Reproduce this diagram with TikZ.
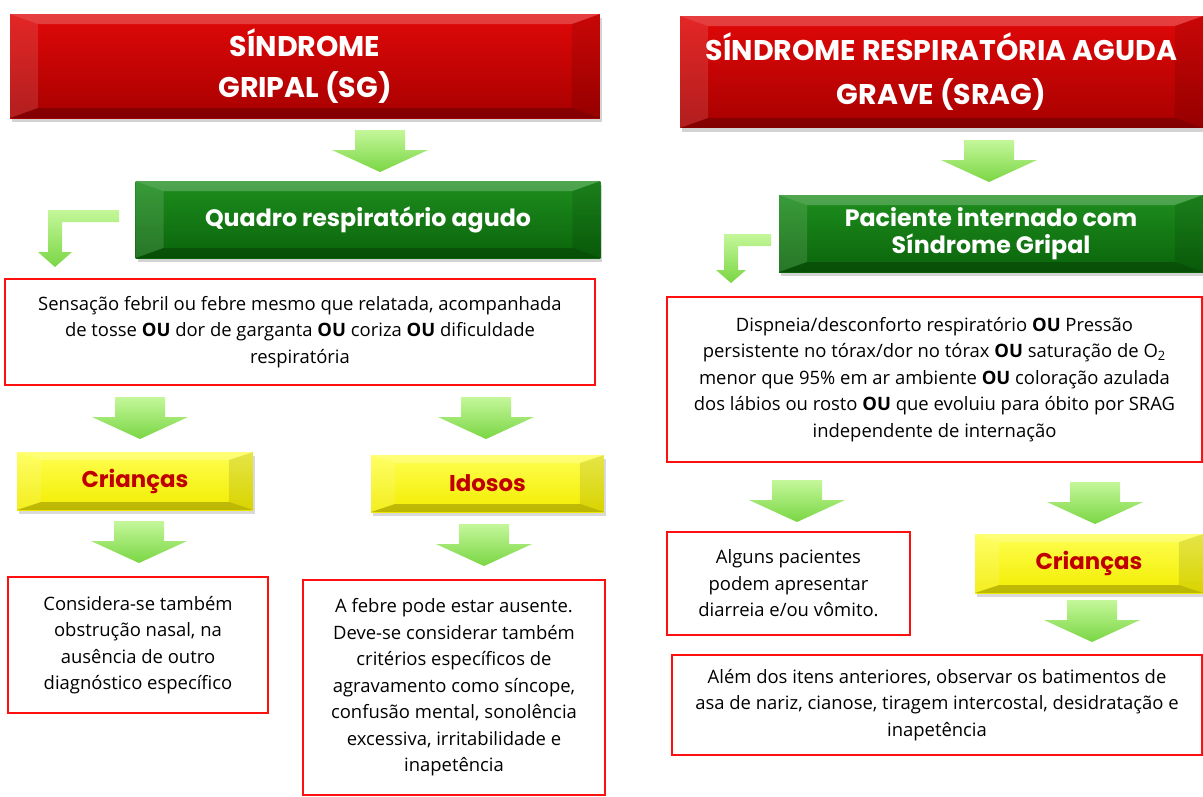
\documentclass[tikz,border=0pt]{standalone}
\usepackage{fontspec}
\setmainfont{Open Sans}
\newfontfamily\titlefont{Poppins}
\usetikzlibrary{calc,shadows}

\definecolor{redtop}{HTML}{E00808}
\definecolor{redbot}{HTML}{A80000}
\definecolor{greentop}{HTML}{1E8E1E}
\definecolor{greenbot}{HTML}{0A640A}
\definecolor{yellowtop}{HTML}{FFFF50}
\definecolor{yellowbot}{HTML}{F2EC00}
\definecolor{darkred}{HTML}{C00000}
\definecolor{arrowtop}{HTML}{C4F79A}
\definecolor{arrowbot}{HTML}{7AD644}
\definecolor{boxred}{HTML}{FF1010}

\tikzset{
  bevel/.style n args={2}{path picture={
    \coordinate (bnw) at (path picture bounding box.north west);
    \coordinate (bne) at (path picture bounding box.north east);
    \coordinate (bsw) at (path picture bounding box.south west);
    \coordinate (bse) at (path picture bounding box.south east);
    \fill[white,opacity=.22] (bnw) -- (bne) -- ($(bne)+(-#1,#2)$) -- ($(bnw)+(#1,#2)$) -- cycle;
    \fill[white,opacity=.12] (bnw) -- ($(bnw)+(#1,#2)$) -- ($(bsw)+(#1,-#2)$) -- (bsw) -- cycle;
    \fill[black,opacity=.10] (bne) -- ($(bne)+(-#1,#2)$) -- ($(bse)+(-#1,-#2)$) -- (bse) -- cycle;
    \fill[black,opacity=.22] (bsw) -- ($(bsw)+(#1,-#2)$) -- ($(bse)+(-#1,-#2)$) -- (bse) -- cycle;
  }},
  seta/.pic={
    \path[arrowfill] (-25,0) -- (25,0) -- (25,20) -- (48,20) -- (0,42)
      -- (-48,20) -- (-25,20) -- cycle;
  }
}

\begin{document}
\begin{tikzpicture}[x=0.02cm,y=-0.02cm,
  titlebox/.style={bevel={28}{10}, top color=redtop, bottom color=redbot,
    drop shadow={shadow xshift=0.4mm, shadow yshift=-0.8mm, opacity=.35},
    text=white, align=center, inner sep=0pt,
    font=\titlefont\bfseries\fontsize{16.2}{23}\selectfont},
  stepgreen/.style={bevel={28}{10}, top color=greentop, bottom color=greenbot,
    drop shadow={shadow xshift=0.4mm, shadow yshift=-0.8mm, opacity=.35},
    text=white, align=center, inner sep=0pt,
    font=\titlefont\bfseries\fontsize{13.5}{15.3}\selectfont},
  groupbox/.style={bevel={24}{8}, top color=yellowtop, bottom color=yellowbot,
    drop shadow={shadow xshift=0.4mm, shadow yshift=-0.8mm, opacity=.3},
    text=darkred, align=center, inner sep=0pt,
    font=\titlefont\bfseries\fontsize{13}{15}\selectfont},
  textbox/.style={draw=boxred, line width=1pt, fill=white, align=center,
    inner sep=0pt, font=\fontsize{10.5}{15.1}\selectfont},
  arrowfill/.style={top color=arrowtop, bottom color=arrowbot}
]
\useasboundingbox (0,0) rectangle (1203,796);

% left: sindrome gripal
\node[titlebox, minimum width=11.8cm, minimum height=2.08cm] (sg) at (305,66)
  {SÍNDROME\\GRIPAL (SG)};
\node[stepgreen, minimum width=9.3cm, minimum height=1.54cm] (qra) at (368,219.5)
  {Quadro respiratório agudo};
\node[textbox, minimum width=11.8cm, minimum height=2.12cm] (t1) at (300,332)
  {Sensação febril ou febre mesmo que relatada, acompanhada\\
   de tosse \textbf{OU} dor de garganta \textbf{OU} coriza \textbf{OU} dificuldade\\
   respiratória};
\node[groupbox, minimum width=4.72cm, minimum height=1.16cm] (cri) at (135,481)
  {Crianças};
\node[groupbox, minimum width=4.66cm, minimum height=1.14cm] (ido) at (487.5,483.5)
  {Idosos};
\node[textbox, minimum width=5.2cm, minimum height=2.72cm] (t2) at (138,645)
  {Considera-se também\\obstrução nasal, na\\ausência de outro\\diagnóstico específico};
\node[textbox, minimum width=6.04cm, minimum height=4.3cm] (t3) at (454,687.5)
  {A febre pode estar ausente.\\Deve-se considerar também\\critérios específicos de\\
   agravamento como síncope,\\confusão mental, sonolência\\excessiva, irritabilidade e\\
   inapetência};

% right: srag
\node[titlebox, minimum width=10.46cm, minimum height=2.24cm,
  font=\titlefont\bfseries\fontsize{16.2}{25}\selectfont] (srag) at (941.5,72)
  {SÍNDROME RESPIRATÓRIA AGUDA\\GRAVE (SRAG)};
\node[stepgreen, minimum width=8.48cm, minimum height=1.54cm] (pig) at (991,233.5)
  {Paciente internado com\\Síndrome Gripal};
\node[textbox, minimum width=10.7cm, minimum height=3.3cm] (t4) at (934.5,379.5)
  {Dispneia/desconforto respiratório \textbf{OU} Pressão\\
   persistente no tórax/dor no tórax \textbf{OU} saturação de O\textsubscript{2}\\
   menor que 95\% em ar ambiente \textbf{OU} coloração azulada\\
   dos lábios ou rosto \textbf{OU} que evoluiu para óbito por SRAG\\
   independente de internação};
\node[textbox, minimum width=4.86cm, minimum height=2.06cm] (t5) at (788.5,583.5)
  {Alguns pacientes\\podem apresentar\\diarreia e/ou vômito.};
\node[groupbox, minimum width=4.56cm, minimum height=1.18cm] (cri2) at (1089,563.5)
  {Crianças};
\node[textbox, minimum width=10.6cm, minimum height=2cm] (t6) at (937,705)
  {Além dos itens anteriores, observar os batimentos de\\
   asa de nariz, cianose, tiragem intercostal, desidratação e\\inapetência};

% setas
\pic at (380,130) {seta};
\pic at (140,397) {seta};
\pic at (486,397) {seta};
\pic at (139,521) {seta};
\pic at (484,524) {seta};
\pic at (989,140) {seta};
\pic at (797,480) {seta};
\pic at (1095,482) {seta};
\pic at (1092,600) {seta};

\path[arrowfill] (119,210) -- (48,210) -- (48,252) -- (38,252) -- (55,267)
  -- (72,252) -- (62,252) -- (62,222) -- (119,222) -- cycle;
\path[arrowfill] (771,234) -- (724,234) -- (724,270) -- (716,270) -- (731,283)
  -- (746,270) -- (738,270) -- (738,246) -- (771,246) -- cycle;
\end{tikzpicture}
\end{document}
